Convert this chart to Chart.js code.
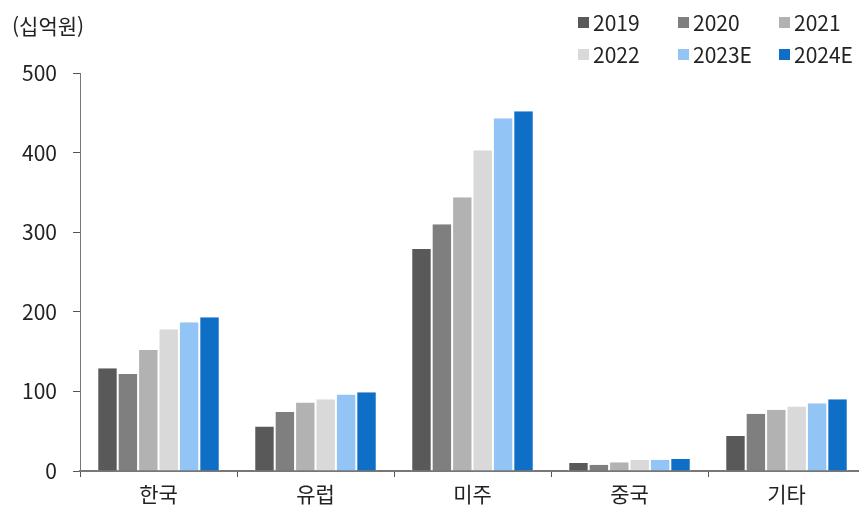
<!DOCTYPE html>
<html lang="ko">
  <head>
    <meta charset="UTF-8" />
    <title>지역별 매출</title>
    <script src="https://cdn.jsdelivr.net/npm/chart.js"></script>
    <style>
      html, body { margin: 0; padding: 0; background: #fff; overflow: hidden; }
      body { width: 859px; height: 508px; position: relative; font-family: "Noto Sans CJK KR", "Noto Sans", sans-serif; color: #222; }
      .wrap { position: absolute; left: 0; top: 0; width: 872px; height: 508px; }
      .unit { position: absolute; left: 12px; top: 12px; font-size: 21px; line-height: 26px; }
      .legend { position: absolute; left: 578px; top: 9px; display: grid; grid-template-columns: 100px 101px 90px; row-gap: 6px; font-size: 21px; }
      .legend span { display: flex; align-items: center; height: 26px; }
      .legend i { display: inline-block; width: 11px; height: 11px; margin-right: 4px; }
    </style>
  </head>
  <body>
    <div class="wrap"><canvas id="myCanvas" width="872" height="508"></canvas></div>
    <div class="unit">(십억원)</div>
    <div class="legend" id="legend"></div>

    <script>
      const categories = ["한국", "유럽", "미주", "중국", "기타"];
      const years = ["2019", "2020", "2021", "2022", "2023E", "2024E"];
      const colors = ["#595959", "#7f7f7f", "#b2b2b2", "#d9d9d9", "#92c5f5", "#0f6fc6"];

      const v2019 = [129, 56, 279, 10, 44];
      const v2020 = [122, 74, 310, 8, 72];
      const v2021 = [152, 86, 344, 11, 77];
      const v2022 = [178, 90, 403, 14, 81];
      const v2023 = [187, 96, 443, 14, 85];
      const v2024 = [193, 99, 452, 15, 90];
      const series = [v2019, v2020, v2021, v2022, v2023, v2024];

      const yTicks = [0, 100, 200, 300, 400, 500];

      // legend in html so it lines up in a 3x2 grid
      const legend = document.getElementById("legend");
      years.forEach(function (y, i) {
        legend.innerHTML += '<span><i style="background:' + colors[i] + '"></i>' + y + "</span>";
      });

      const ctx = document.getElementById("myCanvas").getContext("2d");
      new Chart(ctx, {
        type: "bar",
        data: {
          labels: categories,
          datasets: series.map(function (d, i) {
            return {
              label: years[i],
              data: d,
              backgroundColor: colors[i],
              borderColor: "#ffffff",
              borderWidth: { left: 1, right: 1, top: 0, bottom: 0 },
              barPercentage: 1,
              categoryPercentage: 0.78,
            };
          }),
        },
        options: {
          responsive: false,
          animation: false,
          layout: { padding: { top: 73, right: 7, left: 0, bottom: 0 } },
          plugins: { legend: { display: false }, tooltip: { enabled: false } },
          scales: {
            x: {
              afterFit: function (axis) { axis.height = 37; },
              grid: { display: true, drawOnChartArea: false, tickLength: 6, color: "#555", offset: true },
              border: { color: "#777", width: 2 },
              ticks: { color: "#222", font: { family: "Noto Sans CJK KR", size: 21 }, padding: 4 },
            },
            y: {
              min: 0,
              max: 500,
              afterBuildTicks: function (axis) {
                axis.ticks = yTicks.map(function (v) { return { value: v }; });
              },
              afterFit: function (axis) { axis.width = 80; },
              grid: { display: true, drawOnChartArea: false, tickLength: 7, color: "#555" },
              border: { color: "#777", width: 1 },
              ticks: { color: "#222", font: { family: "Noto Sans CJK KR", size: 21 }, padding: 16 },
            },
          },
        },
      });
    </script>
  </body>
</html>
